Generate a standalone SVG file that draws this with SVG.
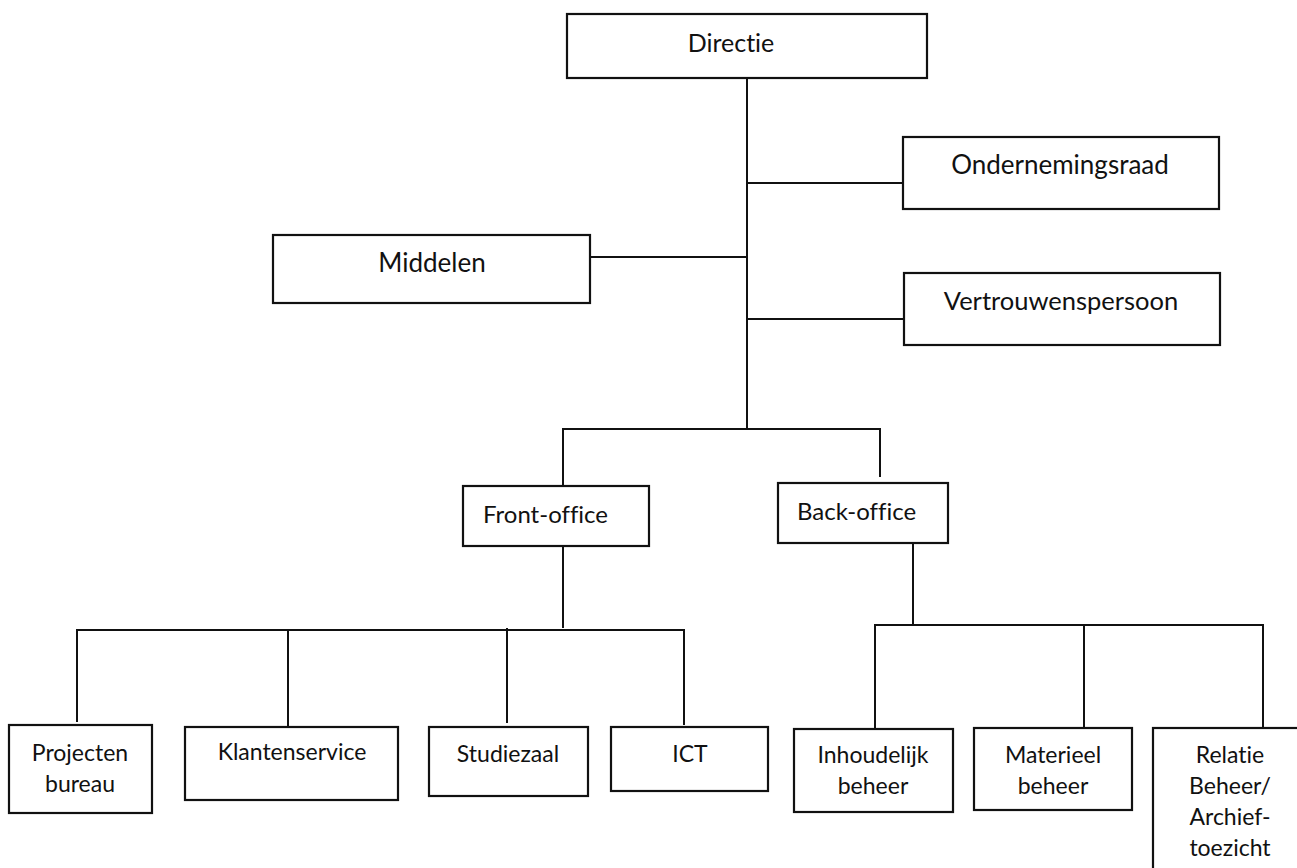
<svg xmlns="http://www.w3.org/2000/svg" width="1297" height="868" viewBox="0 0 1297 868">
<style>
.box{fill:#fff;stroke:#111;stroke-width:2.2}
.ln{fill:none;stroke:#111;stroke-width:2}
text{font-family:Lato,"Liberation Sans",sans-serif;fill:#111;font-variant-ligatures:none}
.t1{font-size:26px;text-anchor:middle}
.t2{font-size:24px}
.t3{font-size:23px;text-anchor:middle}
</style>
<rect width="1297" height="868" fill="#fff"/>
<g id="connectors">
<path class="ln" d="M747 78 V429"/>
<path class="ln" d="M747 183 H903"/>
<path class="ln" d="M590 257 H747"/>
<path class="ln" d="M747 319 H904"/>
<path class="ln" d="M563 486 V429 H880 V477"/>
<path class="ln" d="M563 546 V628"/>
<path class="ln" d="M77 722 V630 H684 V725"/>
<path class="ln" d="M288 726 V629"/>
<path class="ln" d="M507 723 V628"/>
<path class="ln" d="M913 543 V625"/>
<path class="ln" d="M875 728 V625 H1263 V728"/>
<path class="ln" d="M1084 727 V625"/>
</g>
<g id="directie"><rect class="box" x="567" y="14" width="360" height="64"/><text class="t1" x="731" y="52" style="font-size:25px">Directie</text></g>
<g id="ondernemingsraad"><rect class="box" x="903" y="137" width="316" height="72"/><text class="t1" x="1060" y="174">Ondernemingsraad</text></g>
<g id="middelen"><rect class="box" x="273" y="235" width="317" height="68"/><text class="t1" x="432" y="272">Middelen</text></g>
<g id="vertrouwenspersoon"><rect class="box" x="904" y="273" width="316" height="72"/><text class="t1" x="1061" y="310" style="font-size:25.5px">Vertrouwenspersoon</text></g>
<g id="front-office"><rect class="box" x="463" y="486" width="186" height="60"/><text class="t2" x="483" y="523">Front-office</text></g>
<g id="back-office"><rect class="box" x="778" y="483" width="170" height="60"/><text class="t2" x="797" y="520">Back-office</text></g>
<g id="projectenbureau"><rect class="box" x="9" y="725" width="143" height="88"/><text class="t3" x="80" y="761">Projecten</text><text class="t3" x="80" y="792">bureau</text></g>
<g id="klantenservice"><rect class="box" x="185" y="727" width="213" height="73"/><text class="t3" x="292" y="760">Klantenservice</text></g>
<g id="studiezaal"><rect class="box" x="429" y="727" width="159" height="69"/><text class="t3" x="508" y="762">Studiezaal</text></g>
<g id="ict"><rect class="box" x="611" y="727" width="157" height="64"/><text class="t3" x="690" y="762">ICT</text></g>
<g id="inhoudelijk"><rect class="box" x="794" y="729" width="159" height="83"/><text class="t3" x="873" y="763">Inhoudelijk</text><text class="t3" x="873" y="794">beheer</text></g>
<g id="materieel"><rect class="box" x="974" y="728" width="158" height="82"/><text class="t3" x="1053" y="763">Materieel</text><text class="t3" x="1053" y="794">beheer</text></g>
<g id="relatie"><rect class="box" x="1153" y="728" width="170" height="170"/><text class="t3" x="1230" y="763">Relatie</text><text class="t3" x="1230" y="794">Beheer/</text><text class="t3" x="1230" y="825">Archief-</text><text class="t3" x="1230" y="856">toezicht</text></g>
</svg>
